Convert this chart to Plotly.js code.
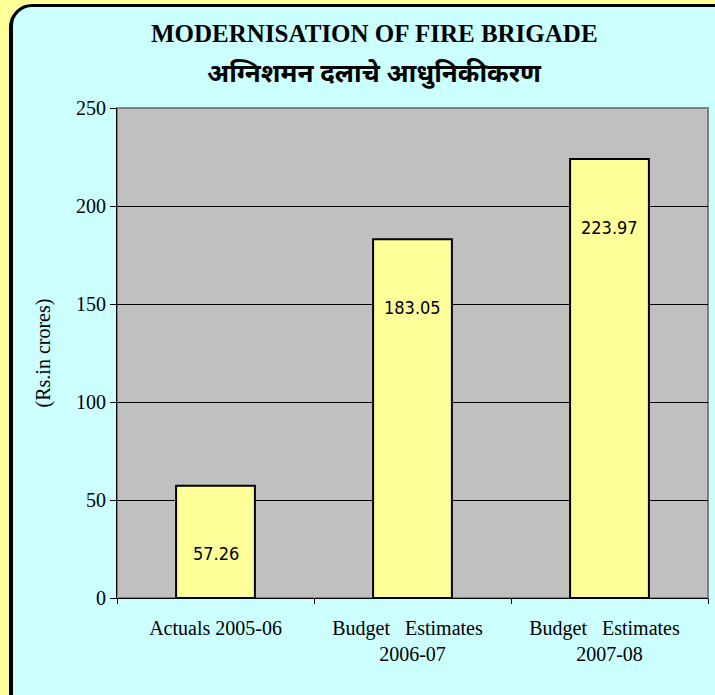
<!DOCTYPE html>
<html><head><meta charset="utf-8">
<script src="https://cdn.plot.ly/plotly-3.0.1.min.js"></script>
<style>
html,body{margin:0;padding:0;width:715px;height:695px;overflow:hidden;background:#FFFF99;}
#frame{position:absolute;left:10px;top:4px;width:740px;height:720px;box-sizing:border-box;border:3px solid #000;border-radius:22px;background:#CCFFFF;box-shadow:-1px 1px 0 #000;}
#chart{position:absolute;left:0;top:0;width:715px;height:695px;}
</style></head>
<body>
<div id="frame"></div>
<div id="chart"></div>
<script>
const categories = ["Actuals 2005-06", "Budget\u00a0\u00a0\u00a0Estimates\u00a0\u00a0<br>2006-07", "Budget\u00a0\u00a0\u00a0Estimates\u00a0\u00a0<br>2007-08"];
const values = [57.26, 183.05, 223.97];
const valueLabels = ["57.26", "183.05", "223.97"];
const titleLine1 = "MODERNISATION OF FIRE BRIGADE";
const titleLine2 = "अग्निशमन दलाचे आधुनिकीकरण";
const yTitle = "(Rs.in crores)";

const serif = "Liberation Serif, Times New Roman, serif";
const narrow = "DejaVu Sans Condensed, Liberation Sans Narrow, Arial Narrow, sans-serif";

const trace = {
  type: "bar", x: categories, y: values, width: 0.4,
  marker: {color: "#FFFF99", line: {color: "#000", width: 2}},
  hoverinfo: "none"
};

const annotations = values.map((v, i) => ({
  x: categories[i], y: v, xref: "x", yref: "y", text: valueLabels[i],
  showarrow: false, yshift: -68, yanchor: "middle", font: {family: narrow, size: 18, color: "#000"}
}));
annotations.push({xref: "paper", yref: "paper", x: 0.435, y: 1, yshift: 75, yanchor: "middle", text: "<b>" + titleLine1 + "</b>",
  showarrow: false, font: {family: serif, size: 25, color: "#000"}});
annotations.push({xref: "paper", yref: "paper", x: 0.435, y: 1, yshift: 36, yanchor: "middle", text: "<b>" + titleLine2 + "</b>",
  showarrow: false, font: {family: "Noto Sans, sans-serif", size: 26, color: "#000"}});

const layout = {
  width: 715, height: 695,
  margin: {l: 117, r: 7, t: 108, b: 97},
  paper_bgcolor: "rgba(0,0,0,0)", plot_bgcolor: "#C0C0C0",
  showlegend: false,
  xaxis: {
    tickson: "boundaries", ticks: "outside", ticklen: 5, tickcolor: "#000",
    showline: true, linecolor: "#000", linewidth: 1, ticklabelstandoff: 12,
    tickfont: {family: serif, size: 20, color: "#000"}, showgrid: false
  },
  yaxis: {
    range: [0, 250], dtick: 50, ticks: "outside", ticklen: 6, tickcolor: "#000",
    showline: true, linecolor: "#000", linewidth: 1,
    gridcolor: "#000", gridwidth: 1, zeroline: false,
    tickfont: {family: serif, size: 20, color: "#000"},
    title: {text: yTitle, font: {family: serif, size: 20, color: "#000"}, standoff: 20}
  },
  shapes: [{type: "rect", xref: "paper", yref: "paper", x0: 0, x1: 1, y0: 0, y1: 1,
    line: {color: "#808080", width: 2}, layer: "below"}],
  annotations: annotations
};
Plotly.newPlot("chart", [trace], layout, {staticPlot: true});
</script>
</body></html>
